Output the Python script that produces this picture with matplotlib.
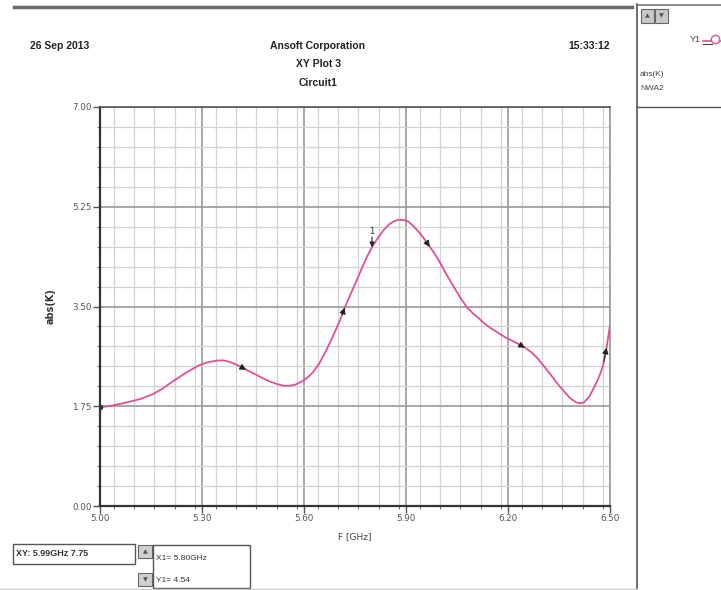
import numpy as np
import matplotlib
matplotlib.use("Agg")
import matplotlib.pyplot as plt
from matplotlib.ticker import MultipleLocator, FixedLocator
from matplotlib.patches import Rectangle
from matplotlib.lines import Line2D

# ---------------- data ----------------
freq_ghz = [5.000, 5.033, 5.066, 5.095, 5.125, 5.155, 5.184, 5.213, 5.243, 5.268,
            5.292, 5.317, 5.342, 5.362, 5.381, 5.405, 5.430, 5.460, 5.489, 5.515,
            5.540, 5.558, 5.575, 5.595, 5.610, 5.627, 5.645, 5.666, 5.686, 5.706,
            5.720, 5.738, 5.755, 5.770, 5.785, 5.800, 5.817, 5.834, 5.850, 5.863,
            5.874, 5.883, 5.895, 5.907, 5.922, 5.937, 5.952, 5.966, 5.984, 6.001,
            6.020, 6.040, 6.060, 6.080, 6.095, 6.109, 6.129, 6.149, 6.173, 6.198,
            6.225, 6.252, 6.270, 6.287, 6.306, 6.326, 6.345, 6.365, 6.383, 6.400,
            6.412, 6.424, 6.439, 6.454, 6.467, 6.479, 6.490, 6.500]
abs_k = [1.73, 1.76, 1.80, 1.84, 1.89, 1.96, 2.06, 2.18, 2.30, 2.39,
         2.47, 2.52, 2.55, 2.555, 2.53, 2.47, 2.39, 2.30, 2.21, 2.15,
         2.11, 2.11, 2.13, 2.19, 2.25, 2.35, 2.50, 2.74, 2.99, 3.26,
         3.48, 3.73, 3.96, 4.17, 4.37, 4.54, 4.70, 4.84, 4.94, 4.99,
         5.015, 5.02, 5.015, 4.99, 4.91, 4.81, 4.70, 4.58, 4.43, 4.26,
         4.05, 3.85, 3.65, 3.48, 3.39, 3.32, 3.21, 3.12, 3.03, 2.94,
         2.86, 2.77, 2.69, 2.59, 2.45, 2.30, 2.15, 2.01, 1.89, 1.82,
         1.80, 1.82, 1.92, 2.09, 2.25, 2.45, 2.78, 3.17]
x_ticks = [5.00, 5.30, 5.60, 5.90, 6.20, 6.50]
y_ticks = [0.00, 1.75, 3.50, 5.25, 7.00]
arrow_x = [5.43, 5.72, 5.97, 6.25, 6.49]
marker_x = 5.80
marker_y = 4.54
series_name = "Y1"

W, H = 721, 590
fig = plt.figure(figsize=(W / 100, H / 100), dpi=100)
fig.patch.set_facecolor("white")

# ---------------- main axes ----------------
L, R, T, B = 100, 610, 107, 506
ax = fig.add_axes([L / W, 1 - B / H, (R - L) / W, (B - T) / H])
curve_color = "#e0509a"
ax.plot(freq_ghz, abs_k, color=curve_color, lw=1.3, zorder=3,
        solid_joinstyle="round", solid_capstyle="round")
ax.plot([freq_ghz[0]], [abs_k[0]], marker="o", ms=3, color="#333333", zorder=4)

ax.set_xlim(5.0, 6.5)
ax.set_ylim(0.0, 7.0)
ax.xaxis.set_major_locator(FixedLocator(x_ticks))
ax.yaxis.set_major_locator(FixedLocator(y_ticks))
ax.xaxis.set_minor_locator(MultipleLocator(0.06))
ax.yaxis.set_minor_locator(MultipleLocator(0.35))
ax.set_xticklabels([f"{v:.2f}" for v in x_ticks])
ax.set_yticklabels([f"{v:.2f}" for v in y_ticks])

ax.grid(which="major", color="#a0a0a0", lw=1.3, zorder=1)
ax.grid(which="minor", color="#d2d2d2", lw=0.9, zorder=1)
ax.tick_params(which="major", direction="out", length=5, width=1, color="#555555",
               labelsize=6.3, labelcolor="#555555", pad=1)
ax.tick_params(which="minor", direction="out", length=2.5, width=0.8, color="#777777")
for s in ["left", "bottom"]:
    ax.spines[s].set_color("#333333")
    ax.spines[s].set_linewidth(1.6)
ax.spines["top"].set_color("#555555")
ax.spines["top"].set_linewidth(1.2)
ax.spines["right"].set_color("#999999")
ax.spines["right"].set_linewidth(1.2)

ax.set_xlabel("F [GHz]", fontsize=6.5, color="#444444", labelpad=6)
ax.set_ylabel("abs(K)", fontsize=7, color="#333333", fontweight="bold", labelpad=12)

# arrowheads along the curve
xs = np.array(freq_ghz)
ys = np.array(abs_k)
for xa in arrow_x:
    ya = np.interp(xa, xs, ys)
    x0 = xa - 0.008
    y0 = np.interp(x0, xs, ys)
    ax.annotate("", xy=(xa, ya), xytext=(x0, y0),
                arrowprops=dict(arrowstyle="-|>", color="#222222", lw=0.8,
                                mutation_scale=9, shrinkA=0, shrinkB=0), zorder=5)

# marker "1"
ax.annotate("", xy=(marker_x, marker_y), xytext=(marker_x, marker_y + 0.18),
            arrowprops=dict(arrowstyle="-|>", color="#222222", lw=0.8,
                            mutation_scale=7, shrinkA=0, shrinkB=0), zorder=5)
ax.text(marker_x - 0.002, marker_y + 0.2, "1", fontsize=6, color="#222222",
        ha="center", va="bottom", zorder=5)

# ---------------- overlay decorations ----------------
ov = fig.add_axes([0, 0, 1, 1], zorder=-1)
ov.set_xlim(0, W)
ov.set_ylim(H, 0)
ov.axis("off")

fam = ["Liberation Sans Narrow", "Liberation Sans", "DejaVu Sans"]
ov.add_line(Line2D([14, 632], [7, 7], color="#6a6a6a", lw=2.5))
ov.text(30, 46, "26 Sep 2013", fontsize=7.5, fontweight="bold", family=fam,
        ha="left", va="center", color="#222222")
ov.text(318, 46, "Ansoft Corporation", fontsize=7.5, fontweight="bold", family=fam,
        ha="center", va="center", color="#222222")
ov.text(318, 64, "XY Plot 3", fontsize=7.5, fontweight="bold", family=fam,
        ha="center", va="center", color="#222222")
ov.text(318, 83, "Circuit1", fontsize=7.5, fontweight="bold", family=fam,
        ha="center", va="center", color="#222222")
ov.text(610, 46, "15:33:12", fontsize=7.5, fontweight="bold", family=fam,
        ha="right", va="center", color="#222222")

# right legend panel
ov.add_line(Line2D([637, 637], [4, H], color="#555555", lw=1.2))
ov.add_line(Line2D([637, W], [5, 5], color="#777777", lw=1.2))
ov.add_line(Line2D([637, W], [107, 107], color="#555555", lw=1.0))
for bx in (641, 655):
    ov.add_patch(Rectangle((bx, 9), 13, 14, facecolor="#c8c8c8", edgecolor="#666666", lw=0.8))
ov.text(647.5, 16, "▲", fontsize=4.5, ha="center", va="center", color="#555555")
ov.text(661.5, 16, "▼", fontsize=4.5, ha="center", va="center", color="#555555")
ov.text(690, 40, series_name, fontsize=6.5, ha="left", va="center", color="#444444", family=fam)
ov.add_line(Line2D([703, W], [41, 41], color=curve_color, lw=1.2))
ov.plot([715], [39], marker="o", ms=6, mfc="white", mec=curve_color, mew=1.0)
ov.add_line(Line2D([703, 712], [44, 44], color="#444444", lw=0.8))
ov.text(640, 75, "abs(K)", fontsize=6, ha="left", va="center", color="#444444", family=fam)
ov.text(640, 88, "NWA2", fontsize=6, ha="left", va="center", color="#444444", family=fam)

# bottom status boxes
ov.add_patch(Rectangle((13, 544), 122, 20, facecolor="white", edgecolor="#555555", lw=1.0))
ov.text(16, 554, "XY: 5.99GHz 7.75", fontsize=6.5, fontweight="bold", family=fam,
        ha="left", va="center", color="#333333")
ov.add_patch(Rectangle((138, 545), 14, 13, facecolor="#d0d0d0", edgecolor="#666666", lw=0.8))
ov.add_patch(Rectangle((138, 573), 14, 13, facecolor="#d0d0d0", edgecolor="#666666", lw=0.8))
ov.text(145, 551.5, "▲", fontsize=4.5, ha="center", va="center", color="#555555")
ov.text(145, 579.5, "▼", fontsize=4.5, ha="center", va="center", color="#555555")
ov.add_patch(Rectangle((153, 545), 97, 43, facecolor="white", edgecolor="#555555", lw=1.0))
ov.text(156, 558, "X1= 5.80GHz", fontsize=6, family=fam, ha="left", va="center", color="#333333")
ov.text(156, 580, "Y1= 4.54", fontsize=6, family=fam, ha="left", va="center", color="#333333")
ov.add_line(Line2D([0, 637], [589, 589], color="#cccccc", lw=1.0))

fig.savefig("out.png", dpi=100, facecolor="white")
